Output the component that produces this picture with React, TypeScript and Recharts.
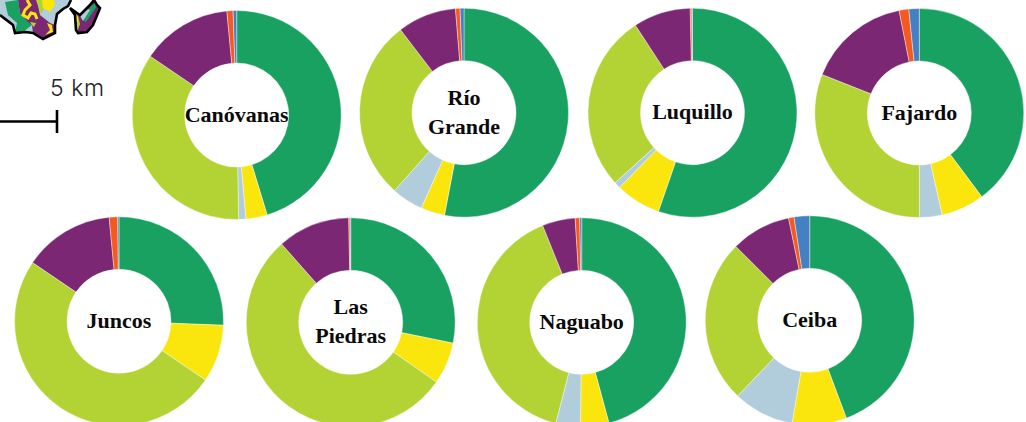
import { PieChart, Pie, Cell } from "recharts"

const segments = ["Bosque", "Arbustos", "Agua", "Pasto", "Urbano", "Suelo", "Humedal"]
const colors = ["#19a162", "#fae60c", "#b1cddc", "#b3d335", "#7b2773", "#f6591f", "#4480c2"]

const canovanas = [45.3, 3.3, 1.1, 34.8, 14, 0.95, 0.55]
const rioGrande = [53, 3.7, 4.9, 28, 9.1, 0.7, 0.6]
const luquillo = [55.3, 7, 1, 27.5, 8.85, 0.25, 0.1]
const fajardo = [39.8, 6.7, 3.5, 31, 15.9, 1.5, 1.6]
const juncos = [25.6, 8.9, 0, 50, 14, 1.3, 0.2]
const lasPiedras = [28.2, 6.5, 0, 53.8, 11.2, 0.2, 0.1]
const naguabo = [45.8, 4.4, 3.8, 39.9, 5.1, 0.7, 0.3]
const ceiba = [44.3, 8.4, 9.4, 25.4, 9.25, 0.85, 2.4]

const towns = [
  { name: ["Canóvanas"], values: canovanas, cx: 236.7, cy: 115 },
  { name: ["Río", "Grande"], values: rioGrande, cx: 464, cy: 112.7 },
  { name: ["Luquillo"], values: luquillo, cx: 692.5, cy: 112.7 },
  { name: ["Fajardo"], values: fajardo, cx: 919.3, cy: 113 },
  { name: ["Juncos"], values: juncos, cx: 119, cy: 321.3 },
  { name: ["Las", "Piedras"], values: lasPiedras, cx: 350.7, cy: 322.3 },
  { name: ["Naguabo"], values: naguabo, cx: 581.7, cy: 322.3 },
  { name: ["Ceiba"], values: ceiba, cx: 809.7, cy: 320.3 },
]

const toRows = (values: number[]) => values.map((value, i) => ({ name: segments[i], value }))

function MapCorner() {
  return (
    <g>
      {/* main island */}
      <path
        d="M0 15 L13 25 L15 33 L25 32 L33 33 L43 39 L55 33 L55 25 L57 14 L63 9 L68 6 L71 0 L0 0 Z"
        fill="#b1cddc"
      />
      <path d="M5 2 L18 0 L20 13 L30 22 L32 25 L23 32 L15 32 L17 23 L8 15 Z" fill="#19a162" />
      <path
        d="M18 0 L37 0 L40 15 L50 23 L55 25 L55 33 L43 39 L33 33 L32 25 L28 22 L20 13 Z"
        fill="#7b2773"
      />
      <path d="M36 0 L42 0 L44 9 L41 14 Z" fill="#b3d335" />
      <path d="M42 0 L54 0 L55 5 L50 12 L43 8 Z" fill="#fae60c" />
      <path
        d="M27 0 L30 5 L25 10 L23 15 L28 18 L31 13 L35 14 L37 19"
        fill="none"
        stroke="#fae60c"
        strokeWidth={3}
      />
      <path d="M47 23 L52 25 L53 32 L45 35 L50 30 Z" fill="#fae60c" />
      <path d="M30 22 L36 23 L34 27 L32 25 Z" fill="#b3d335" />
      {/* east island */}
      <path d="M70 8 L75 15 L76 30 L78 33 L87 32 L93 25 L100 8 L97 5 L94 0 L90 5 L80 15 L77 13 Z" fill="#7b2773" />
      <path d="M90 7 L95 3 L97 6 L86 22 L83 20 Z" fill="#19a162" />
      <path d="M72 9 L78 16 L80 24 L77 32 L76 16 Z" fill="#b3d335" />
      <path d="M75 16 L78 17 L78 22 L76 22 Z" fill="#fae60c" />
      <path d="M80 16 L88 9 L90 10 L83 21 Z" fill="#b1cddc" />
      {/* outlines */}
      <path
        d="M0 15 L13 25 L15 33 L25 32 L33 33 L43 39 L55 33 L55 25 L57 14 L63 9 L68 6 L71 0"
        fill="none"
        stroke="#000"
        strokeWidth={2.6}
      />
      <path
        d="M70 8 L75 15 L76 30 L78 33 L87 32 L93 25 L100 8 L97 5 L94 0 L90 5 L80 15 L77 13 Z"
        fill="none"
        stroke="#000"
        strokeWidth={2.6}
      />
    </g>
  )
}

export default function App() {
  return (
    <div style={{ position: "absolute", left: 0, top: 0, width: 1026, height: 422, background: "#fff" }}>
      <PieChart width={1026} height={422} margin={{ top: 0, right: 0, bottom: 0, left: 0 }}>
        {towns.map((town) => (
          <Pie
            key={town.name.join(" ")}
            data={toRows(town.values)}
            dataKey="value"
            nameKey="name"
            cx={town.cx}
            cy={town.cy}
            innerRadius={52}
            outerRadius={104.5}
            startAngle={90}
            endAngle={-270}
            stroke="#fff"
            strokeWidth={0.4}
            isAnimationActive={false}
          >
            {town.values.map((_, i) => (
              <Cell key={i} fill={colors[i]} />
            ))}
          </Pie>
        ))}
        {towns.map((town) => (
          <text
            key={town.name.join(" ")}
            x={town.cx}
            y={town.cy + 6.5 - (town.name.length - 1) * 14.5}
            textAnchor="middle"
            fontFamily="'Liberation Serif', serif"
            fontWeight={700}
            fontSize={22}
            fill="#0a0a0a"
          >
            {town.name.map((line, i) => (
              <tspan key={line} x={town.cx} dy={i === 0 ? 0 : 29}>
                {line}
              </tspan>
            ))}
          </text>
        ))}
        <MapCorner />
        <text x={50} y={96} fontFamily="Inter, sans-serif" fontWeight={300} fontSize={23} letterSpacing={0.6} fill="#222">
          5 km
        </text>
        <line x1={0} y1={121.5} x2={57} y2={121.5} stroke="#000" strokeWidth={2.6} />
        <line x1={57} y1={110} x2={57} y2={133} stroke="#000" strokeWidth={2.6} />
      </PieChart>
    </div>
  )
}
